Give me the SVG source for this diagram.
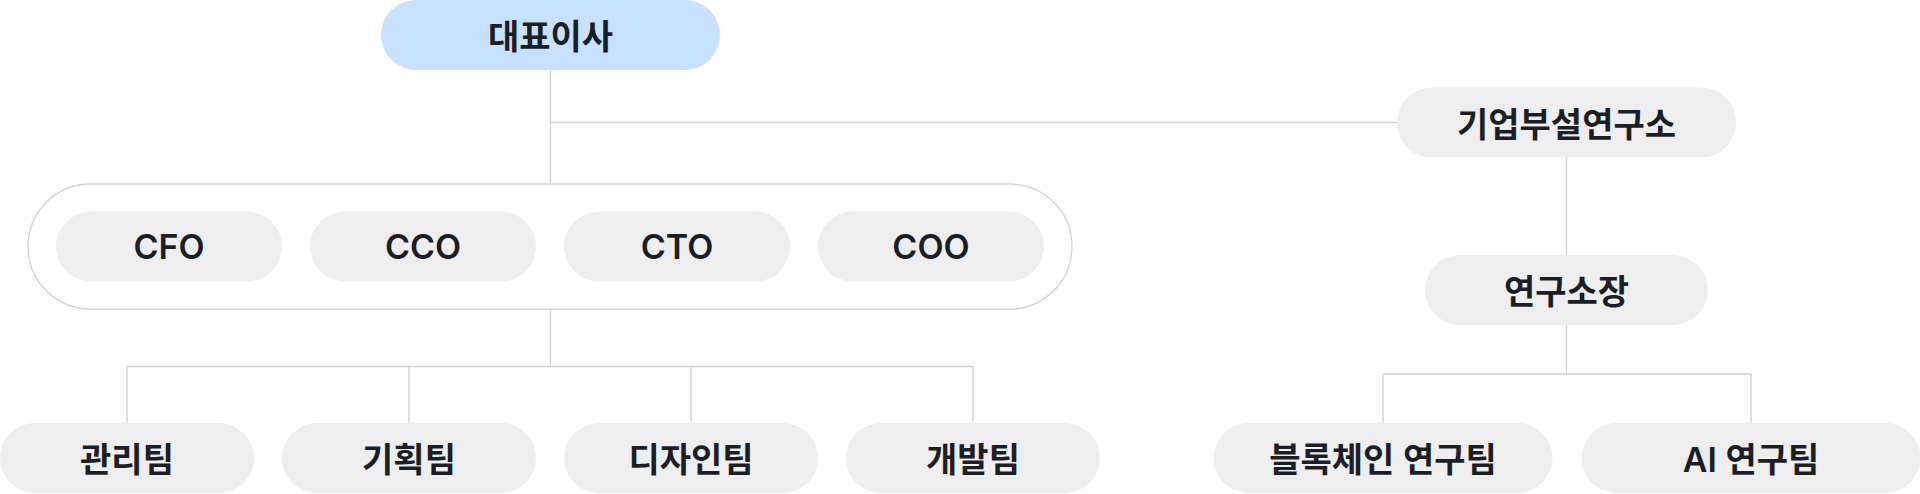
<svg xmlns="http://www.w3.org/2000/svg" width="1920" height="494" viewBox="0 0 1920 494">
<style>
.n{fill:#eeeeee}
.top{fill:#c8e1ff}
.t{font-family:Inter,"Noto Sans CJK KR",sans-serif;font-size:34px;font-weight:600;fill:#1b1e24;text-anchor:middle}
.c{fill:none;stroke:#d2d2d2;stroke-width:1.3}
</style>
<rect x="0" y="0" width="1920" height="494" fill="#ffffff"/>
<g id="connectors" class="c">
<path d="M550.5 70V184"/>
<path d="M550.5 122.5H1397"/>
<path d="M550.5 309V366.5"/>
<path d="M127 423V366.5H973V423"/>
<path d="M409 366.5V423"/>
<path d="M691 366.5V423"/>
<path d="M1566.5 157.5V255"/>
<path d="M1566.5 325V374"/>
<path d="M1383 423V374H1751V423"/>
</g>
<g id="container"><rect x="28" y="184" width="1044" height="125" rx="62.5" fill="#ffffff" stroke="#d2d2d2" stroke-width="1.3"/></g>
<g id="ceo"><rect class="top" x="381" y="0" width="339" height="70" rx="35"/><text class="t" x="550.5" y="49">대표이사</text></g>
<g id="lab"><rect class="n" x="1397" y="87.5" width="339" height="70" rx="35"/><text class="t" x="1566.5" y="136.5">기업부설연구소</text></g>
<g id="cfo"><rect class="n" x="56" y="211.5" width="226" height="70" rx="35"/><text class="t" x="169" y="258.5">CFO</text></g>
<g id="cco"><rect class="n" x="310" y="211.5" width="226" height="70" rx="35"/><text class="t" x="423" y="258.5">CCO</text></g>
<g id="cto"><rect class="n" x="564" y="211.5" width="226" height="70" rx="35"/><text class="t" x="677" y="258.5">CTO</text></g>
<g id="coo"><rect class="n" x="818" y="211.5" width="226" height="70" rx="35"/><text class="t" x="931" y="258.5">COO</text></g>
<g id="director"><rect class="n" x="1425" y="255" width="283" height="70" rx="35"/><text class="t" x="1566.5" y="304">연구소장</text></g>
<g id="team-admin"><rect class="n" x="0" y="423" width="254" height="70" rx="35"/><text class="t" x="127" y="472">관리팀</text></g>
<g id="team-plan"><rect class="n" x="282" y="423" width="254" height="70" rx="35"/><text class="t" x="409" y="472">기획팀</text></g>
<g id="team-design"><rect class="n" x="564" y="423" width="254" height="70" rx="35"/><text class="t" x="691" y="472">디자인팀</text></g>
<g id="team-dev"><rect class="n" x="846" y="423" width="254" height="70" rx="35"/><text class="t" x="973" y="472">개발팀</text></g>
<g id="team-bc"><rect class="n" x="1213.5" y="423" width="339" height="70" rx="35"/><text class="t" x="1383" y="472">블록체인 연구팀</text></g>
<g id="team-ai"><rect class="n" x="1581.5" y="423" width="339" height="70" rx="35"/><text class="t" x="1751" y="472">AI 연구팀</text></g>
</svg>
